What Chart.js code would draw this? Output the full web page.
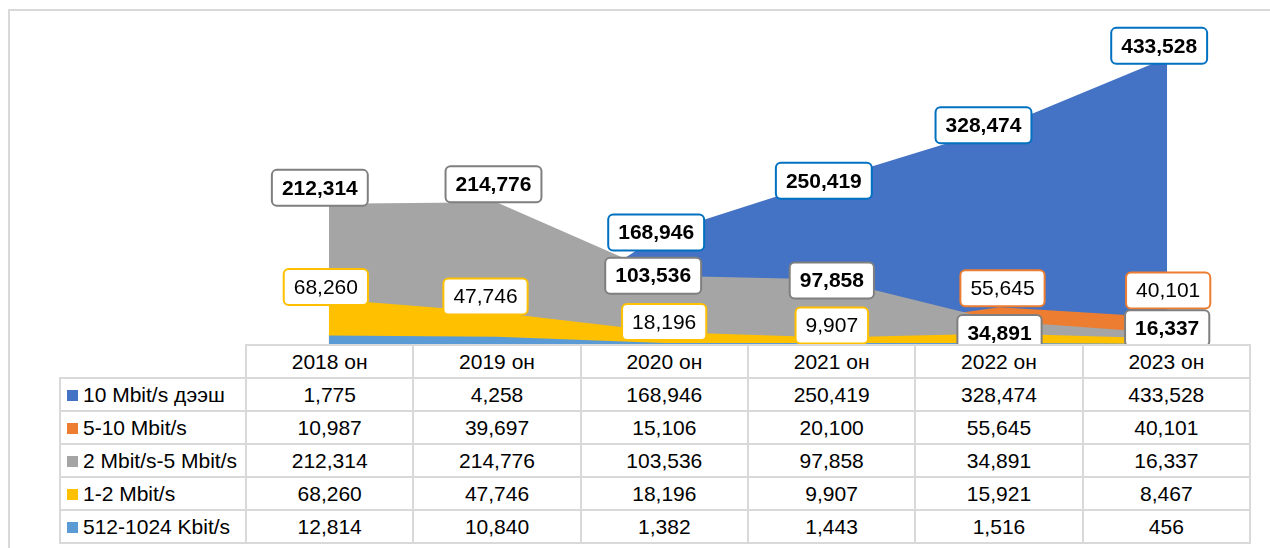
<!DOCTYPE html>
<html>
<head>
<meta charset="utf-8">
<title>Internet speed subscribers</title>
<script src="https://cdn.jsdelivr.net/npm/chart.js@4.4.1/dist/chart.umd.min.js"></script>
<style>
  body {
    margin: 0;
    background: #fff;
    width: 1270px;
    height: 548px;
    overflow: hidden;
    position: relative;
    font-family: "Liberation Sans", Arial, sans-serif;
  }
  .frame {
    position: absolute;
    left: 8px;
    top: 9px;
    width: 1320px;
    height: 620px;
    border: 2px solid #d9d9d9;
  }
  #chart {
    position: absolute;
    left: 0;
    top: 0;
  }
  #dataTable {
    position: absolute;
    left: 59px;
    top: 344px;
    width: 1192px;
    border-collapse: collapse;
    table-layout: fixed;
    font-size: 21px;
    color: #000;
  }
  #dataTable td {
    border: 2px solid #d9d9d9;
    height: 31px;
    padding: 0;
    text-align: center;
    white-space: nowrap;
    line-height: 31px;
  }
  #dataTable td.empty {
    border: none;
  }
  #dataTable td.name {
    text-align: left;
    padding-left: 6px;
  }
  .swatch {
    display: inline-block;
    width: 11px;
    height: 11px;
    margin-right: 5px;
    vertical-align: 1px;
  }
</style>
</head>
<body>
<div class="frame"></div>
<canvas id="chart" width="1270" height="344"></canvas>
<table id="dataTable"></table>

<script>
// categories
const years = ['2018 он', '2019 он', '2020 он', '2021 он', '2022 он', '2023 он'];

// series (subscribers by speed)
const seriesNames = ['10 Mbit/s дээш', '5-10 Mbit/s', '2 Mbit/s-5 Mbit/s', '1-2 Mbit/s', '512-1024 Kbit/s'];
const above10 = [1775, 4258, 168946, 250419, 328474, 433528];
const mbit5to10 = [10987, 39697, 15106, 20100, 55645, 40101];
const mbit2to5 = [212314, 214776, 103536, 97858, 34891, 16337];
const mbit1to2 = [68260, 47746, 18196, 9907, 15921, 8467];
const kbit512 = [12814, 10840, 1382, 1443, 1516, 456];

const seriesValues = [above10, mbit5to10, mbit2to5, mbit1to2, kbit512];

// styles
const fillColors = ['#4472C4', '#ED7D31', '#A5A5A5', '#FFC000', '#5B9BD5'];
const labelBorders = ['#0070C0', '#ED7D31', '#7F7F7F', '#FFC000', '#5B9BD5'];
const labelBold = [true, false, true, false, false];
// draw order: the blue area sits behind, light blue in front
const drawOrder = [5, 4, 3, 2, 1];
// which points carry a label, and the label nudge [dx, dy] from the point
const labelNudges = [
  { 2: [-8, 0], 3: [-8, 2], 4: [-16, -2], 5: [-8, -12] },
  { 4: [3, -19], 5: [1, -27] },
  { 0: [-9, -16], 1: [-3, -18], 2: [-11, 0], 3: [0, 1], 4: [0, 12], 5: [0, -5] },
  { 0: [-3, -12], 1: [-11, -16], 2: [0, -10], 3: [0, -12] },
  {}
];

const fmt = v => v.toLocaleString('en-US');

// rounded box data labels
const boxLabels = {
  id: 'boxLabels',
  afterDatasetsDraw(chart) {
    const ctx = chart.ctx;
    ctx.save();
    chart.data.datasets.forEach((ds, di) => {
      const meta = chart.getDatasetMeta(di);
      const nudges = labelNudges[di];
      Object.keys(nudges).forEach(key => {
        const i = Number(key);
        const pt = meta.data[i];
        if (!pt) return;
        const [dx, dy] = nudges[key];
        const cx = pt.x + dx;
        const cy = pt.y + dy;
        const text = fmt(ds.data[i]);
        ctx.font = (labelBold[di] ? 'bold ' : '') + '21px "Liberation Sans", Arial, sans-serif';
        const w = ctx.measureText(text).width + 20;
        const h = 36;
        const x = cx - w / 2;
        const y = cy - h / 2;
        const r = 5;
        ctx.beginPath();
        ctx.moveTo(x + r, y);
        ctx.lineTo(x + w - r, y);
        ctx.arcTo(x + w, y, x + w, y + r, r);
        ctx.lineTo(x + w, y + h - r);
        ctx.arcTo(x + w, y + h, x + w - r, y + h, r);
        ctx.lineTo(x + r, y + h);
        ctx.arcTo(x, y + h, x, y + h - r, r);
        ctx.lineTo(x, y + r);
        ctx.arcTo(x, y, x + r, y, r);
        ctx.closePath();
        ctx.fillStyle = '#fff';
        ctx.fill();
        ctx.lineWidth = 2;
        ctx.strokeStyle = labelBorders[di];
        ctx.stroke();
        ctx.fillStyle = '#000';
        ctx.textAlign = 'center';
        ctx.textBaseline = 'middle';
        ctx.fillText(text, cx, cy + 1);
      });
    });
    ctx.restore();
  }
};

const datasets = seriesNames.map((name, i) => ({
  label: name,
  data: seriesValues[i],
  order: drawOrder[i],
  fill: 'origin',
  backgroundColor: fillColors[i],
  borderColor: fillColors[i],
  borderWidth: 0,
  pointRadius: 0,
  tension: 0
}));

new Chart(document.getElementById('chart'), {
  type: 'line',
  data: { labels: years, datasets: datasets },
  options: {
    responsive: false,
    animation: false,
    devicePixelRatio: 1,
    layout: { padding: { left: 245, right: 19, top: 14, bottom: 0 } },
    scales: {
      x: { type: 'category', offset: true, display: false },
      y: { min: 0, max: 500000, display: false }
    },
    plugins: {
      legend: { display: false },
      tooltip: { enabled: false }
    }
  },
  plugins: [boxLabels]
});

// data table under the plot
function buildTable() {
  const table = document.getElementById('dataTable');
  const colgroup = document.createElement('colgroup');
  const first = document.createElement('col');
  first.style.width = '186px';
  colgroup.appendChild(first);
  years.forEach(() => {
    const c = document.createElement('col');
    colgroup.appendChild(c);
  });
  table.appendChild(colgroup);

  const head = document.createElement('tr');
  const corner = document.createElement('td');
  corner.className = 'empty';
  head.appendChild(corner);
  years.forEach(y => {
    const td = document.createElement('td');
    td.textContent = y;
    head.appendChild(td);
  });
  table.appendChild(head);

  seriesNames.forEach((name, si) => {
    const tr = document.createElement('tr');
    const nameCell = document.createElement('td');
    nameCell.className = 'name';
    const sw = document.createElement('span');
    sw.className = 'swatch';
    sw.style.background = fillColors[si];
    nameCell.appendChild(sw);
    nameCell.appendChild(document.createTextNode(name));
    tr.appendChild(nameCell);
    seriesValues[si].forEach(v => {
      const td = document.createElement('td');
      td.textContent = fmt(v);
      tr.appendChild(td);
    });
    table.appendChild(tr);
  });
}

buildTable();
</script>
</body>
</html>
